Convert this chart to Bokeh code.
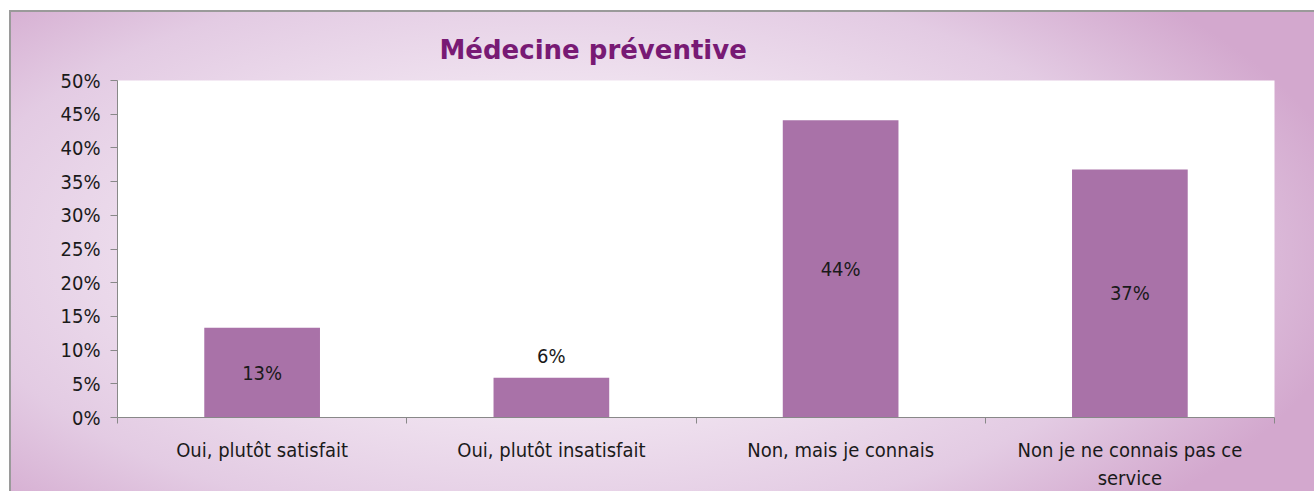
from bokeh.plotting import figure
from bokeh.models import FixedTicker, ColumnDataSource, Range1d, NumeralTickFormatter
from bokeh.core.properties import value
from bokeh.embed import file_html
from bokeh.resources import INLINE

categories = ["Oui, plutôt satisfait", "Oui, plutôt insatisfait", "Non, mais je connais", "Non je ne connais pas ce\nservice"]
values = [13.3, 5.9, 44.1, 36.8]
labels = ["13%", "6%", "44%", "37%"]
y_ticks = [0, 5, 10, 15, 20, 25, 30, 35, 40, 45, 50]

FONT = "'DejaVu Sans Condensed', 'Liberation Sans', sans-serif"
PURPLE = "#A972A8"

xs = [i + 0.5 for i in range(len(categories))]
label_y = [v / 2 if v > 10 else v for v in values]
label_off = [0 if v > 10 else -22 for v in values]

src = ColumnDataSource(dict(x=xs, top=values, ly=label_y, loff=label_off, txt=labels))

p = figure(width=1305, height=481, output_backend="svg", toolbar_location=None,
           x_range=Range1d(0, len(categories)), y_range=Range1d(0, 50),
           min_border_left=106, min_border_right=42, min_border_bottom=67, min_border_top=68)

p.border_fill_color = None
p.styles = {"background": "radial-gradient(ellipse 62% 78% at 42% 50%, #F4EAF4 0%, #EFE1EF 45%, #E3CBE3 75%, #D3A8CE 100%)",
            "border-top": "2px solid #9a9a9a", "border-left": "2px solid #9a9a9a",
            "margin-left": "9px", "margin-top": "10px"}
p.background_fill_color = "white"
p.outline_line_color = None
p.grid.visible = False

p.vbar(x="x", top="top", width=0.4, bottom=0, source=src, fill_color=PURPLE, line_color=None)
p.text(x="x", y="ly", text="txt", y_offset="loff", source=src, text_align="center", text_baseline="middle",
       text_font=value(FONT), text_font_size="20px", text_color="#1a1a1a")

p.title.text = "Médecine préventive"
p.title.text_font = "DejaVu Sans"
p.title.text_font_style = "bold"
p.title.text_font_size = "26px"
p.title.text_color = "#781A74"
p.title.align = "left"
p.title.offset = 322
p.title.standoff = 32

# y axis
p.yaxis.ticker = FixedTicker(ticks=y_ticks)
p.yaxis.formatter = NumeralTickFormatter(format="0")
p.yaxis.major_label_overrides = {t: f"{t}%" for t in y_ticks}
p.yaxis.axis_line_color = "#888888"
p.yaxis.major_tick_line_color = "#888888"
p.yaxis.major_tick_out = 7
p.yaxis.major_tick_in = 0
p.yaxis.minor_tick_line_color = None
p.yaxis.major_label_text_font = FONT
p.yaxis.major_label_text_font_size = "20px"
p.yaxis.major_label_text_color = "#1a1a1a"
p.yaxis.major_label_standoff = 10

# x axis
p.xaxis.ticker = FixedTicker(ticks=xs, minor_ticks=list(range(len(categories) + 1)))
p.xaxis.major_label_overrides = {x: c for x, c in zip(xs, categories)}
p.xaxis.axis_line_color = "#888888"
p.xaxis.major_tick_line_color = None
p.xaxis.minor_tick_line_color = "#888888"
p.xaxis.minor_tick_out = 6
p.xaxis.minor_tick_in = 0
p.xaxis.major_label_text_font = FONT
p.xaxis.major_label_text_font_size = "20px"
p.xaxis.major_label_text_color = "#1a1a1a"
p.xaxis.major_label_standoff = 14

open("out.html", "w").write(file_html(p, INLINE))
